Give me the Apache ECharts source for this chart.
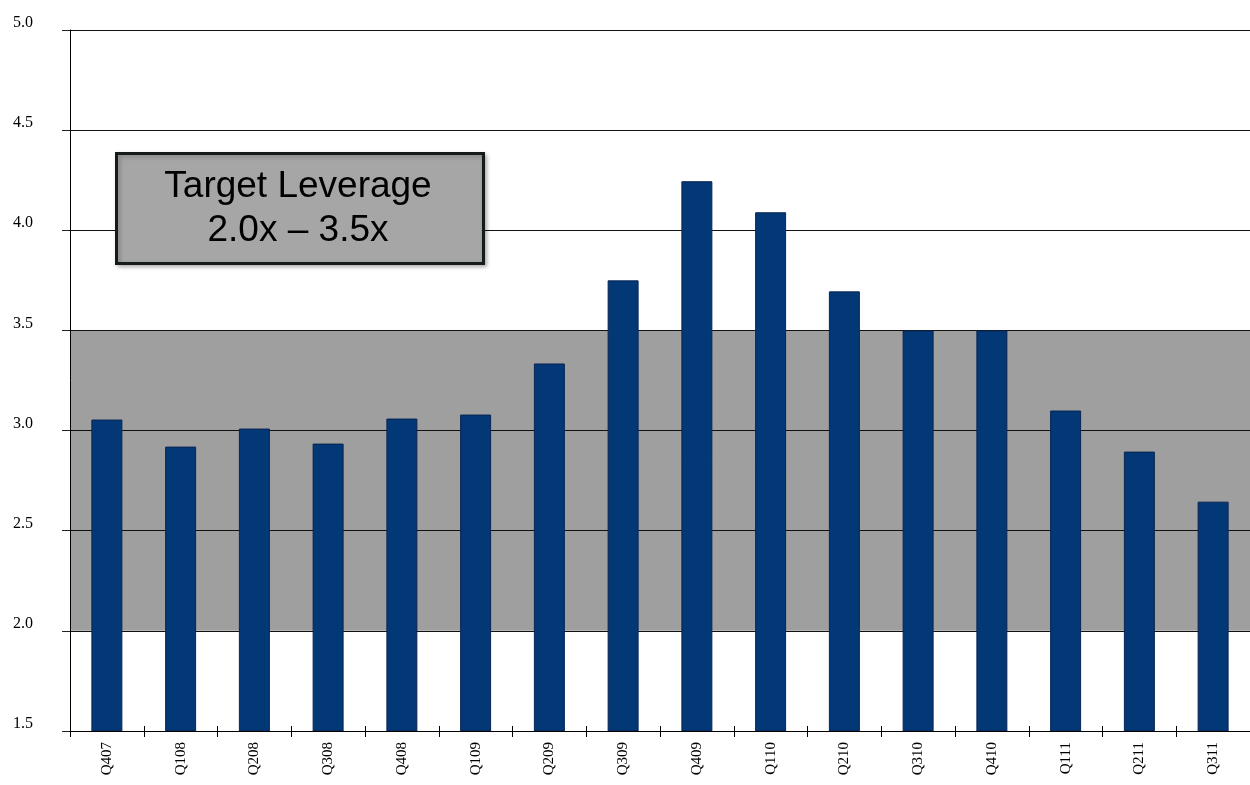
<!DOCTYPE html>
<html>
<head>
<meta charset="utf-8">
<script src="https://cdn.jsdelivr.net/npm/echarts@6/dist/echarts.min.js"></script>
<style>
  html, body { margin: 0; padding: 0; background: #fff; }
  #chart { width: 1250px; height: 785px; }
</style>
</head>
<body>
<div id="chart"></div>
<script>
// quarters and leverage ratio
const quarters = ['Q407', 'Q108', 'Q208', 'Q308', 'Q408', 'Q109', 'Q209', 'Q309',
  'Q409', 'Q110', 'Q210', 'Q310', 'Q410', 'Q111', 'Q211', 'Q311'];
const leverage = [3.055, 2.92, 3.01, 2.935, 3.06, 3.08, 3.335, 3.75,
  4.245, 4.09, 3.695, 3.5, 3.5, 3.1, 2.895, 2.645];
const targetBand = [2.0, 3.5];
const boxLines = ['Target Leverage', '2.0x \u2013 3.5x'];

const chart = echarts.init(document.getElementById('chart'));

chart.setOption({
  animation: false,
  grid: { left: 70, top: 30, width: 1189, height: 701 },
  xAxis: [
    {
      type: 'category',
      data: quarters,
      z: 3,
      axisLine: { lineStyle: { color: '#000', width: 1 } },
      axisTick: { show: true, length: 6, lineStyle: { color: '#000' } },
      axisLabel: {
        rotate: 90, margin: 11, color: '#000',
        fontFamily: 'Liberation Serif', fontSize: 15
      },
      splitLine: { show: false }
    },
    {
      type: 'category',
      data: quarters,
      position: 'bottom',
      z: 3,
      axisLine: { show: false },
      axisTick: { show: true, inside: true, length: 5, lineStyle: { color: '#000' } },
      axisLabel: { show: false },
      splitLine: { show: false }
    }
  ],
  yAxis: {
    type: 'value',
    min: 1.5, max: 5, interval: 0.5,
    z: 1,
    axisLine: { show: true, lineStyle: { color: '#000', width: 1 } },
    axisTick: { show: true, length: 8, lineStyle: { color: '#222' } },
    axisLabel: {
      margin: 37, color: '#000', verticalAlign: 'bottom',
      lineHeight: 14,
      fontFamily: 'Liberation Serif', fontSize: 16,
      formatter: v => v.toFixed(1)
    },
    splitLine: { show: true, lineStyle: { color: '#111', width: 1 } }
  },
  series: [
    {
      type: 'bar',
      data: leverage,
      barWidth: '42%',
      z: 2,
      itemStyle: { color: '#023876', borderColor: '#0a2452', borderWidth: 1 },
      markArea: {
        silent: true,
        z: 0,
        itemStyle: { color: '#9f9f9f', opacity: 1 },
        data: [[{ yAxis: targetBand[0] }, { yAxis: targetBand[1] }]]
      }
    }
  ],
  graphic: [
    {
      type: 'rect',
      left: 115, top: 152, z: 10,
      shape: { width: 367, height: 110 },
      style: {
        fill: '#a6a6a6', stroke: '#151a1a', lineWidth: 3,
        shadowBlur: 4, shadowOffsetX: 2, shadowOffsetY: 2, shadowColor: 'rgba(0,0,0,0.25)'
      }
    },
    {
      type: 'text',
      z: 11,
      x: 298, y: 209,
      style: {
        text: boxLines.join('\n'),
        align: 'center',
        verticalAlign: 'middle',
        fill: '#000',
        font: '37px "Liberation Sans"',
        lineHeight: 44
      }
    }
  ]
});
</script>
</body>
</html>
